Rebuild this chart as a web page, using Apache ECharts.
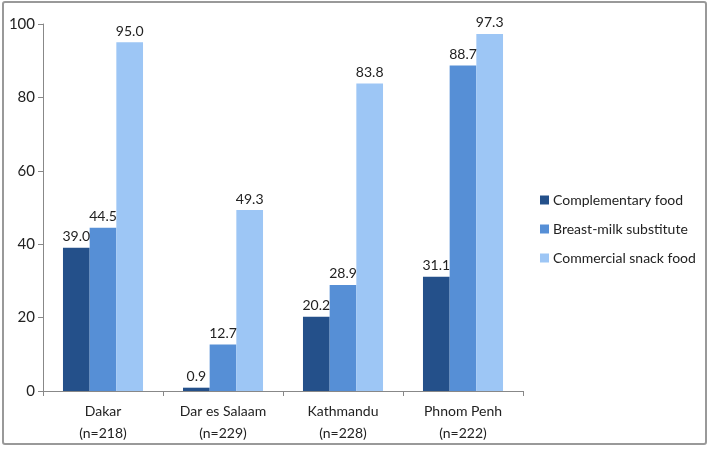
<!DOCTYPE html>
<html><head><meta charset="utf-8">
<script src="https://cdn.jsdelivr.net/npm/echarts@6/dist/echarts.min.js"></script>
<style>html,body{margin:0;padding:0;background:#fff}#c{width:709px;height:449px}</style>
</head><body><div id="c"></div>
<script>
const categories = ['Dakar\n(n=218)', 'Dar es Salaam\n(n=229)', 'Kathmandu\n(n=228)', 'Phnom Penh\n(n=222)'];
const seriesNames = ['Complementary food', 'Breast-milk substitute', 'Commercial snack food'];
const complementary = [39.0, 0.9, 20.2, 31.1];
const breastMilk = [44.5, 12.7, 28.9, 88.7];
const snack = [95.0, 49.3, 83.8, 97.3];
const colors = ['#24508a', '#568fd6', '#9dc6f5'];
const FONT = 'Lato';
const chart = echarts.init(document.getElementById('c'));
const mk = (name, data, color) => ({
  name, type: 'bar', data, barGap: '0%', barCategoryGap: '33.3%',
  itemStyle: { color },
  label: { show: true, position: 'top', distance: 4, color: '#222', fontSize: 14, fontFamily: FONT,
    formatter: p => p.value.toFixed(1) }
});
chart.setOption({
  animation: false,
  grid: { left: 43, right: 186, top: 24, bottom: 58, containLabel: false },
  legend: {
    orient: 'vertical', left: 535, top: 188, itemWidth: 9, itemHeight: 9, itemGap: 15,
    icon: 'rect', textStyle: { fontFamily: FONT, fontSize: 14, color: '#222', padding: [0, 0, 0, -1] },
    data: seriesNames
  },
  xAxis: {
    type: 'category', data: categories,
    axisLine: { lineStyle: { color: '#888', width: 1 } },
    axisTick: { show: true, length: 5, lineStyle: { color: '#888' } },
    axisLabel: { fontFamily: FONT, fontSize: 14, color: '#222', lineHeight: 22, margin: 9 }
  },
  yAxis: {
    type: 'value', min: 0, max: 100, interval: 20,
    splitLine: { show: false },
    axisLine: { show: true, lineStyle: { color: '#888' } },
    axisTick: { show: true, length: 5, lineStyle: { color: '#888' } },
    axisLabel: { fontFamily: FONT, fontSize: 15, color: '#222', margin: 8 }
  },
  graphic: [{
    type: 'rect', shape: { x: 3, y: 2, width: 703, height: 442, r: 2 },
    style: { fill: null, stroke: '#999', lineWidth: 2 }, silent: true
  }],
  series: [mk(seriesNames[0], complementary, colors[0]), mk(seriesNames[1], breastMilk, colors[1]), mk(seriesNames[2], snack, colors[2])]
});
</script></body></html>
